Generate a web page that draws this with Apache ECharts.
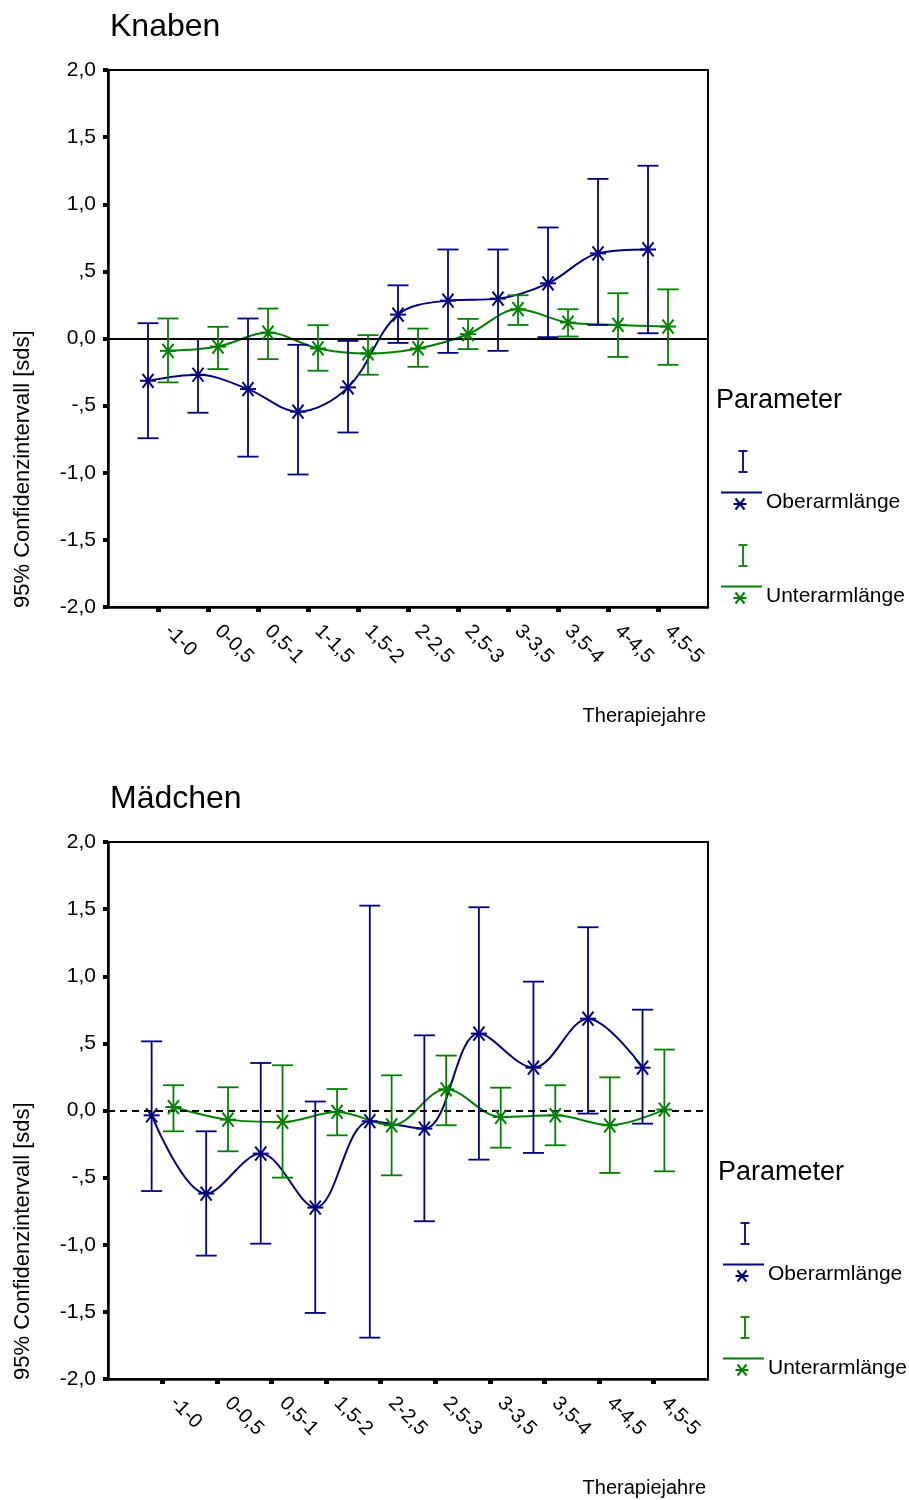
<!DOCTYPE html>
<html><head><meta charset="utf-8">
<script src="https://cdn.jsdelivr.net/npm/echarts@6/dist/echarts.min.js"></script>
<style>html,body{margin:0;padding:0;background:#fff}#c{width:909px;height:1500px}</style>
</head><body><div id="c"></div>
<script>
// ---------- DATA ----------
const knabenCategories = ['-1-0','0-0,5','0,5-1','1-1,5','1,5-2','2-2,5','2,5-3','3-3,5','3,5-4','4-4,5','4,5-5'];
const knabenOberMean  = [-0.315,-0.27,-0.377,-0.545,-0.364,0.178,0.282,0.297,0.411,0.634,0.663];
const knabenOberLow   = [-0.743,-0.553,-0.88,-1.013,-0.70,-0.033,-0.107,-0.092,0.01,0.101,0.039];
const knabenOberHigh  = [0.114,-0.005,0.149,-0.047,-0.018,0.396,0.663,0.663,0.827,1.189,1.287];
const knabenUnterMean = [-0.092,-0.06,0.044,-0.074,-0.111,-0.074,0.032,0.218,0.119,0.101,0.089];
const knabenUnterLow  = [-0.327,-0.228,-0.154,-0.24,-0.27,-0.211,-0.079,0.101,0.015,-0.137,-0.196];
const knabenUnterHigh = [0.149,0.087,0.223,0.099,0.025,0.074,0.146,0.322,0.218,0.337,0.366];

const maedchenCategories = ['-1-0','0-0,5','0,5-1','1,5-2','2-2,5','2,5-3','3-3,5','3,5-4','4-4,5','4,5-5'];
const maedchenOberMean  = [-0.036,-0.619,-0.321,-0.723,-0.08,-0.135,0.573,0.319,0.684,0.319];
const maedchenOberLow   = [-0.60,-1.081,-0.992,-1.508,-1.692,-0.825,-0.366,-0.316,-0.023,-0.098];
const maedchenOberHigh  = [0.515,-0.155,0.354,0.067,1.526,0.56,1.514,0.96,1.365,0.751];
const maedchenUnterMean = [0.026,-0.068,-0.085,-0.011,-0.11,0.158,-0.048,-0.036,-0.11,0.007];
const maedchenUnterLow  = [-0.155,-0.304,-0.5,-0.185,-0.483,-0.11,-0.277,-0.259,-0.465,-0.453];
const maedchenUnterHigh = [0.188,0.173,0.337,0.16,0.262,0.409,0.17,0.188,0.247,0.454];

const yTickValues = [-2,-1.5,-1,-0.5,0,0.5,1,1.5,2];
const yTickLabels = ['-2,0','-1,5','-1,0','-,5','0,0',',5','1,0','1,5','2,0'];

const panelTitles = ['Knaben','Mädchen'];
const seriesNames = ['Oberarmlänge','Unterarmlänge'];
const legendTitle = 'Parameter';
const xAxisName = 'Therapiejahre';
const yAxisName = '95% Confidenzintervall [sds]';

// ---------- RENDER ----------
const BLUE = '#000080', GREEN = '#008000';
const FONT = '"Liberation Sans", Arial, sans-serif';
const OFF = 0.2;      // horizontal offset of the two series around each category
const LABEL_OFF = 0.2; // rotated labels start slightly right of the tick

function yLabel(v){
  const i = yTickValues.findIndex(t => Math.abs(t - v) < 1e-6);
  return i >= 0 ? yTickLabels[i] : '';
}

function starChildren(cx, cy, st, h, dx, dy){
  const L = (x1,y1,x2,y2) => ({type:'line', shape:{x1,y1,x2,y2}, style:st});
  return [L(cx-h,cy,cx+h,cy), L(cx-dx,cy-dy,cx+dx,cy+dy), L(cx+dx,cy-dy,cx-dx,cy+dy)];
}

function errorRender(color){
  return function(params, api){
    const x = api.value(0), m = api.value(1), lo = api.value(2), hi = api.value(3);
    const pm = api.coord([x,m]), pl = api.coord([x,lo]), ph = api.coord([x,hi]);
    const cw = 10.5;
    const st = {stroke:color, lineWidth:1.8, fill:null};
    const L = (x1,y1,x2,y2) => ({type:'line', shape:{x1,y1,x2,y2}, style:st});
    return {type:'group', children:[
      L(pl[0],pl[1],ph[0],ph[1]),
      L(pl[0]-cw,pl[1],pl[0]+cw,pl[1]),
      L(ph[0]-cw,ph[1],ph[0]+cw,ph[1])
    ].concat(starChildren(pm[0],pm[1],{stroke:color,lineWidth:2,fill:null},8,5.5,7))};
  };
}

const grids = [], xAxes = [], yAxes = [], series = [], graphics = [];

function makePanel(gi, cats, oM, oL, oH, uM, uL, uH, top, dashed){
  grids.push({left:108, top:top, width:600, height:537, show:true, borderColor:'#000', borderWidth:2, backgroundColor:'transparent'});
  const ticks = cats.map((c,i) => i+1);
  const labelPos = cats.map((c,i) => i+1+LABEL_OFF);
  xAxes.push({
    gridIndex:gi, type:'value', min:0, max:cats.length+1, interval:1,
    axisLine:{show:true, onZero:false, lineStyle:{color:'#000', width:2.5}},
    axisTick:{show:true, customValues:ticks, length:5, lineStyle:{color:'#000', width:5}},
    axisLabel:{show:true, customValues:labelPos, rotate:-45, margin:21, fontSize:20, color:'#000', fontFamily:FONT,
      formatter: v => cats[Math.round(v - LABEL_OFF)-1] || ''},
    splitLine:{show:false}
  });
  yAxes.push({
    gridIndex:gi, type:'value', min:-2, max:2, interval:0.5,
    axisLine:{show:true, onZero:false, lineStyle:{color:'#000', width:2.5}},
    axisTick:{show:true, length:5, lineStyle:{color:'#000', width:4}},
    axisLabel:{formatter:yLabel, fontSize:21, color:'#000', margin:12, fontFamily:FONT},
    splitLine:{show:false}
  });
  const oLine = oM.map((v,i) => [i+1-OFF, v]);
  const uLine = uM.map((v,i) => [i+1+OFF, v]);
  const oErr = oM.map((v,i) => [i+1-OFF, v, oL[i], oH[i]]);
  const uErr = uM.map((v,i) => [i+1+OFF, v, uL[i], uH[i]]);
  series.push({
    type:'line', xAxisIndex:gi, yAxisIndex:gi, data:oLine, smooth:0.35, showSymbol:false,
    lineStyle:{color:BLUE, width:2}, silent:true, z:3,
    markLine:{silent:true, symbol:['none','none'], label:{show:false},
      lineStyle:{color:'#000', width:2, type: dashed ? [7,5] : 'solid'},
      data:[{yAxis:0}]}
  });
  series.push({
    type:'line', xAxisIndex:gi, yAxisIndex:gi, data:uLine, smooth:0.35, showSymbol:false,
    lineStyle:{color:GREEN, width:2}, silent:true, z:3
  });
  series.push({type:'custom', xAxisIndex:gi, yAxisIndex:gi, data:oErr, renderItem:errorRender(BLUE),
    encode:{x:0, y:[1,2,3]}, silent:true, z:4});
  series.push({type:'custom', xAxisIndex:gi, yAxisIndex:gi, data:uErr, renderItem:errorRender(GREEN),
    encode:{x:0, y:[1,2,3]}, silent:true, z:5});

  // titles and axis names
  graphics.push({type:'text', left:110, top:top-59, style:{text:panelTitles[gi], font:'32px ' + FONT, fill:'#000'}});
  graphics.push({type:'text', x:706, y:top+646, style:{text:xAxisName, font:'20px ' + FONT, fill:'#000', textAlign:'right', textVerticalAlign:'middle'}});
  graphics.push({type:'text', x:23, y:top+538, rotation:Math.PI/2, style:{text:yAxisName, font:'22px ' + FONT, fill:'#000', textAlign:'left', textVerticalAlign:'middle'}});

  // legend
  const dx = gi === 0 ? 0 : 2, by = top + 331;
  graphics.push({type:'text', x:716+dx, y:by, style:{text:legendTitle, font:'27px ' + FONT, fill:'#000', textAlign:'left', textVerticalAlign:'middle'}});
  [[BLUE, 0], [GREEN, 94]].forEach(([col, oy], k) => {
    const st = {stroke:col, lineWidth:1.8, fill:null};
    const gx = 743 + dx, y0 = by + 50 + oy;
    const kids = [
      {type:'line', shape:{x1:gx, y1:y0, x2:gx, y2:y0+21}, style:st},
      {type:'line', shape:{x1:gx-4.5, y1:y0, x2:gx+4.5, y2:y0}, style:st},
      {type:'line', shape:{x1:gx-4.5, y1:y0+21, x2:gx+4.5, y2:y0+21}, style:st},
      {type:'line', shape:{x1:721+dx, y1:y0+41.5, x2:762+dx, y2:y0+41.5}, style:{stroke:col, lineWidth:2}}
    ].concat(starChildren(740+dx, y0+53, {stroke:col, lineWidth:2, fill:null}, 6.5, 4.5, 5.5));
    graphics.push({type:'group', children:kids});
    graphics.push({type:'text', x:766+dx, y:y0+51.5, style:{text:seriesNames[k], font:'21px ' + FONT, fill:'#000', textAlign:'left', textVerticalAlign:'middle'}});
  });
}

makePanel(0, knabenCategories, knabenOberMean, knabenOberLow, knabenOberHigh, knabenUnterMean, knabenUnterLow, knabenUnterHigh, 70, false);
makePanel(1, maedchenCategories, maedchenOberMean, maedchenOberLow, maedchenOberHigh, maedchenUnterMean, maedchenUnterLow, maedchenUnterHigh, 842, true);

const chart = echarts.init(document.getElementById('c'), null, {renderer:'canvas', width:909, height:1500});
chart.setOption({
  backgroundColor:'#fff',
  animation:false,
  textStyle:{fontFamily:FONT},
  grid:grids, xAxis:xAxes, yAxis:yAxes, series:series, graphic:graphics
});
</script>
</body></html>
